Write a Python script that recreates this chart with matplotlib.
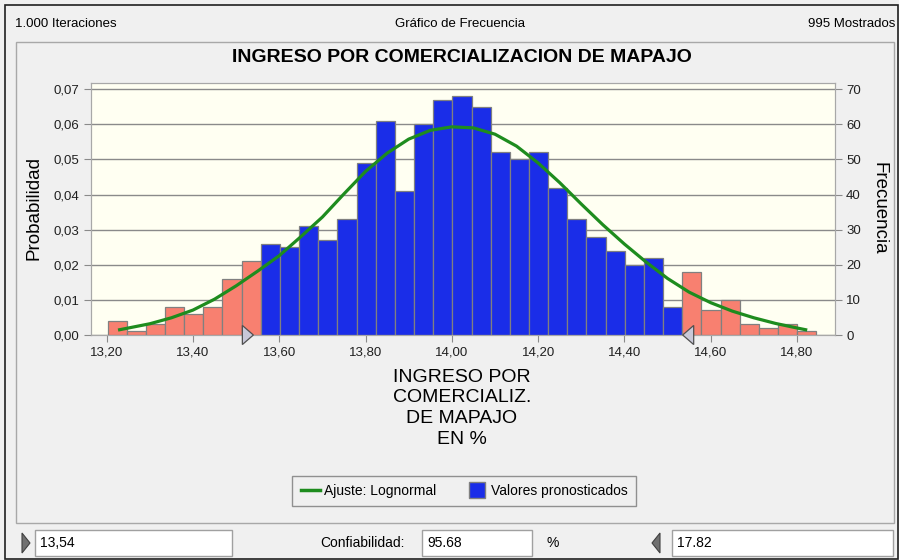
import matplotlib
matplotlib.use("Agg")
import matplotlib.pyplot as plt
import matplotlib.transforms as mtransforms
from matplotlib.patches import Rectangle, Polygon
from matplotlib.lines import Line2D

plt.rcParams['font.family'] = ['Liberation Sans', 'DejaVu Sans']

# ---- data ----
bin_start = 13.202
bin_width = 0.0444
counts = [4, 1, 3, 8, 6, 8, 16, 21,
          26, 25, 31, 27, 33, 49, 61, 41, 60, 67, 68,
          65, 52, 50, 52, 42, 33, 28, 24, 20, 22, 8,
          18, 7, 10, 3, 2, 3, 1]
lower_cut = 13.54
upper_cut = 14.535

curve_x = [13.23, 13.30, 13.35, 13.40, 13.45, 13.50, 13.55, 13.60, 13.65, 13.70,
           13.75, 13.80, 13.85, 13.90, 13.95, 14.00, 14.05, 14.10, 14.15, 14.20,
           14.25, 14.30, 14.35, 14.40, 14.45, 14.50, 14.55, 14.60, 14.65, 14.70,
           14.75, 14.80, 14.82]
curve_freq = [1.5, 3.2, 4.9, 7.1, 10.2, 14.0, 18.2, 22.6, 28.0, 33.6,
              40.2, 46.6, 51.8, 55.8, 58.3, 59.3, 59.0, 57.2, 53.8, 49.0,
              43.4, 37.3, 31.4, 25.9, 20.8, 16.1, 12.2, 9.2, 6.8, 4.9,
              3.3, 2.0, 1.5]

x_ticks = [13.2, 13.4, 13.6, 13.8, 14.0, 14.2, 14.4, 14.6, 14.8]
prob_ticks = [0.0, 0.01, 0.02, 0.03, 0.04, 0.05, 0.06, 0.07]
freq_ticks = [0, 10, 20, 30, 40, 50, 60, 70]

title = "INGRESO POR COMERCIALIZACION DE MAPAJO"
x_title_lines = ["INGRESO POR", "COMERCIALIZ.", "DE MAPAJO", "EN %"]
trials_text = "1.000 Iteraciones"
shown_text = "995 Mostrados"
lower_text = "13,54"
certainty_text = "95.68"
upper_text = "17.82"

W, H = 899, 560
def fx(px):
    return px / W
def fy(py):
    return 1 - py / H

fig = plt.figure(figsize=(W / 100, H / 100), dpi=100, facecolor='#f0f0f0')

# frames
fig.add_artist(Rectangle((fx(5), fy(559)), fx(893), 554 / H, fill=False,
                         edgecolor='#202020', lw=1.2, transform=fig.transFigure))
fig.add_artist(Rectangle((fx(16), fy(523)), fx(878), 481 / H, fill=False,
                         edgecolor='#a8a8a8', lw=1, transform=fig.transFigure))

fig.text(fx(15), fy(24), trials_text, fontsize=9.5, va='center', ha='left')
fig.text(fx(460), fy(24), "Gráfico de Frecuencia", fontsize=9.5, va='center', ha='center')
fig.text(fx(895), fy(24), shown_text, fontsize=9.5, va='center', ha='right')
fig.text(fx(462), fy(57), title, fontsize=14, fontweight='bold', va='center', ha='center')

ax = fig.add_axes([fx(90.7), fy(335), fx(835 - 90.7), (335 - 83.3) / H])
ax.set_facecolor('#fffff2')
ax2 = ax.twinx()

y_top = 71.7
ax.set_ylim(0, y_top / 1000)
ax2.set_ylim(0, y_top)
ax.set_xlim(13.163, 14.888)

lefts = [bin_start + i * bin_width for i in range(len(counts))]
colors = []
for l in lefts:
    if l >= lower_cut and l + bin_width <= upper_cut + 1e-6:
        colors.append('#1a2de8')
    else:
        colors.append('#f88070')
ax2.bar(lefts, counts, width=bin_width, align='edge', color=colors,
        edgecolor='#808080', linewidth=0.9, zorder=2)
ax2.plot(curve_x, curve_freq, color='#1e8c1e', lw=2.3, zorder=3)

# certainty grabbers
tr = mtransforms.blended_transform_factory(ax2.transData, ax2.transAxes)
tw, th = 0.0255, 0.038
ax2.add_patch(Polygon([(lower_cut - tw, -th), (lower_cut, 0), (lower_cut - tw, th)],
                      closed=True, transform=tr, clip_on=False, facecolor='#c8c8d8',
                      edgecolor='#505050', lw=0.9, zorder=5))
ax2.add_patch(Polygon([(upper_cut + tw, -th), (upper_cut, 0), (upper_cut + tw, th)],
                      closed=True, transform=tr, clip_on=False, facecolor='#c8c8d8',
                      edgecolor='#505050', lw=0.9, zorder=5))

ax.set_yticks(prob_ticks)
ax.set_yticklabels([f"{v:.2f}".replace('.', ',') for v in prob_ticks])
ax2.set_yticks(freq_ticks)
ax2.set_yticklabels([str(v) for v in freq_ticks])
ax.set_xticks(x_ticks)
ax.set_xticklabels([f"{v:.2f}".replace('.', ',') for v in x_ticks])
ax.yaxis.grid(True, color='#8a8a8a', lw=1)
ax.set_axisbelow(True)

for a in (ax, ax2):
    a.tick_params(length=5, width=0.8, color='#8a8a8a', labelsize=9.5,
                  labelcolor='#202020', pad=3)
    for s in a.spines.values():
        s.set_color('#a8a8a8')

fig.text(fx(34), fy(208), "Probabilidad", rotation=90, fontsize=13.5, va='center', ha='center')
fig.text(fx(879), fy(208), "Frecuencia", rotation=270, fontsize=13.5, va='center', ha='center')
for i, line in enumerate(x_title_lines):
    fig.text(fx(462), fy(377 + i * 20.7), line, fontsize=14, va='center', ha='center')

handles = [Line2D([], [], color='#1e8c1e', lw=2.5),
           Line2D([], [], marker='s', markersize=12, markerfacecolor='#1a2de8',
                  markeredgecolor='#808080', linestyle='none')]
fig.legend(handles, ["Ajuste: Lognormal", "Valores pronosticados"], ncol=2,
           loc='center', bbox_to_anchor=(fx(464), fy(491)), fontsize=10,
           frameon=True, fancybox=False, edgecolor='#909090', facecolor='#f0f0f0',
           framealpha=1, handlelength=1.4, handletextpad=0.3, columnspacing=2.2,
           borderpad=0.6)

# bottom controls
def box(x0, x1, txt):
    fig.add_artist(Rectangle((fx(x0), fy(556)), fx(x1 - x0), 26 / H, facecolor='white',
                             edgecolor='#a0a0a0', lw=1, transform=fig.transFigure))
    fig.text(fx(x0 + 5), fy(543), txt, fontsize=10, va='center', ha='left')

box(35, 232, lower_text)
box(422, 532, certainty_text)
box(672, 893, upper_text)
fig.text(fx(405), fy(543), "Confiabilidad:", fontsize=10, va='center', ha='right')
fig.text(fx(553), fy(543), "%", fontsize=10, va='center', ha='center')
fig.add_artist(Polygon([(fx(22), fy(533)), (fx(30), fy(543)), (fx(22), fy(553))],
                       closed=True, facecolor='#707070', edgecolor='#404040', lw=0.8,
                       transform=fig.transFigure))
fig.add_artist(Polygon([(fx(660), fy(533)), (fx(652), fy(543)), (fx(660), fy(553))],
                       closed=True, facecolor='#707070', edgecolor='#404040', lw=0.8,
                       transform=fig.transFigure))

fig.savefig("out.png", dpi=100, facecolor=fig.get_facecolor())
